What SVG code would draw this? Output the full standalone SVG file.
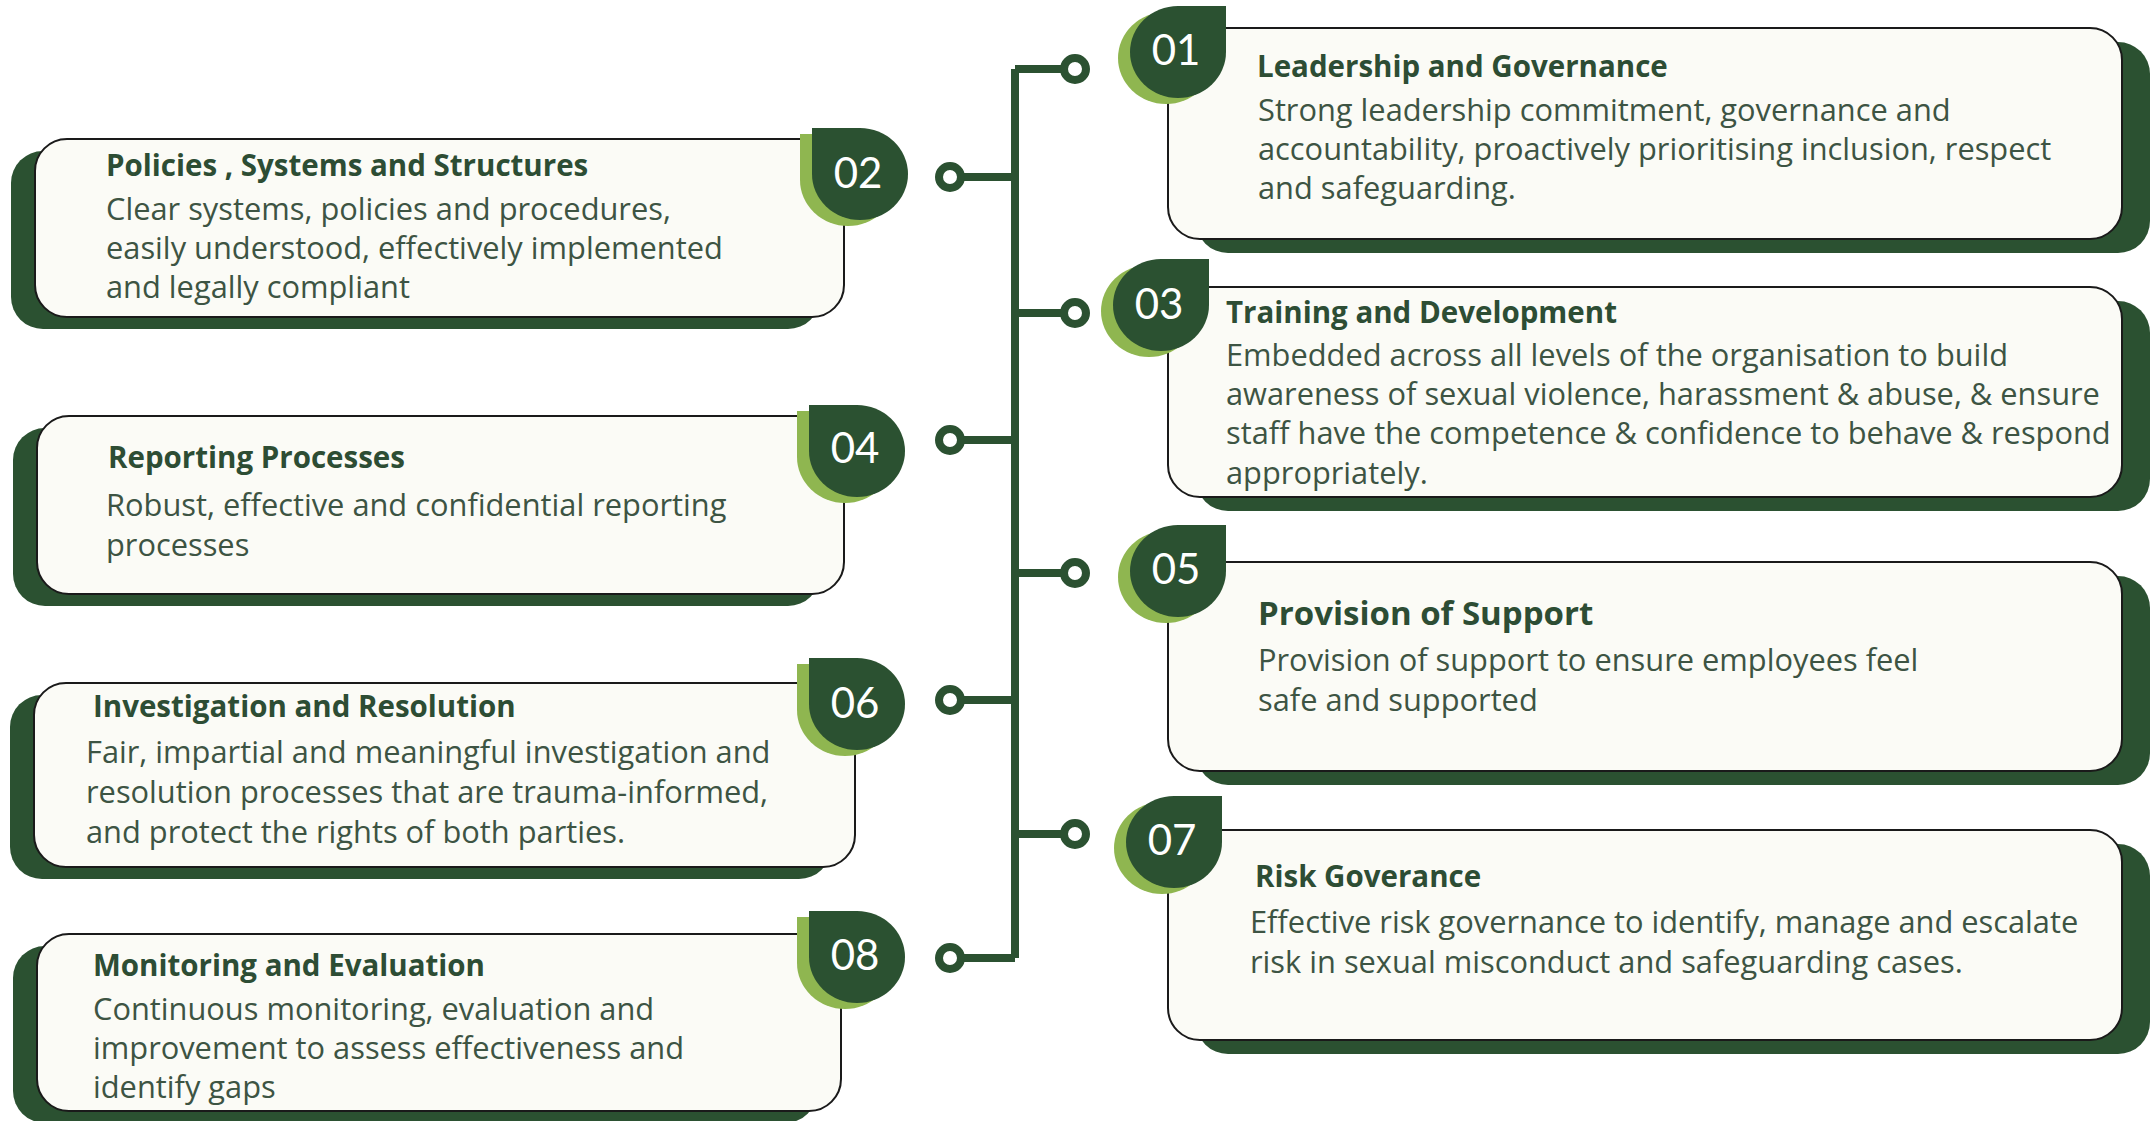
<svg xmlns="http://www.w3.org/2000/svg" xmlns:xlink="http://www.w3.org/1999/xlink" width="2151" height="1121" viewBox="0 0 2151 1121">
<style>
.bg{fill:#ffffff}
.shadow{fill:#2b5131}
.card{fill:#fbfbf6;stroke:#1a1a1a;stroke-width:2}
.bdark{fill:#2b5131}
.blight{fill:#8fb650}
.num{font-family:"Lato","Open Sans",sans-serif;font-size:42px;fill:#ffffff;text-anchor:middle}
.title{font-family:"Open Sans","Noto Sans",sans-serif;font-weight:700;font-size:29.5px;fill:#2d4d34}
.title2{font-family:"Open Sans","Noto Sans",sans-serif;font-weight:700;font-size:33px;fill:#2d4d34}
.body{font-family:"Open Sans","Noto Sans",sans-serif;font-size:30.8px;fill:#3d5443}
.line{fill:none;stroke:#2b5131;stroke-width:8}
.dot{fill:#ffffff;stroke:#2b5131;stroke-width:8}
</style>
<defs>
<path id="badgeR" d="M48,0 H96 V46 A48,46 0 0 1 48,92 A48,46 0 0 1 0,46 A48,46 0 0 1 48,0 Z"/>
<path id="badgeL" d="M0,0 H48 A48,46 0 0 1 96,46 A48,46 0 0 1 48,92 A48,46 0 0 1 0,46 Z"/>
</defs>
<rect class="bg" x="0" y="0" width="2151" height="1121"/>

<g id="connectors">
<path class="line" d="M1015,69 V958"/>
<path class="line" d="M1015,69 H1064 M1015,313 H1064 M1015,573 H1064 M1015,834 H1064"/>
<path class="line" d="M1015,177 H960 M1015,440 H960 M1015,700 H960 M1015,958 H960"/>
<circle class="dot" cx="1075" cy="69" r="11"/>
<circle class="dot" cx="1075" cy="313" r="11"/>
<circle class="dot" cx="1075" cy="573" r="11"/>
<circle class="dot" cx="1075" cy="834" r="11"/>
<circle class="dot" cx="950" cy="177" r="11"/>
<circle class="dot" cx="950" cy="440" r="11"/>
<circle class="dot" cx="950" cy="700" r="11"/>
<circle class="dot" cx="950" cy="958" r="11"/>
</g>

<g id="node-01">
<rect class="shadow" x="1196" y="42" width="954" height="211" rx="32"/>
<rect class="card" x="1168" y="28" width="954" height="211" rx="32"/>
<use href="#badgeR" class="blight" x="1118" y="12"/>
<use href="#badgeR" class="bdark" x="1130" y="6"/>
<text class="num" x="1176" y="65">01</text>
<text class="title" x="1257" y="77">Leadership and Governance</text>
<text class="body"><tspan x="1258" y="121">Strong leadership commitment, governance and</tspan><tspan x="1258" y="160">accountability, proactively prioritising inclusion, respect</tspan><tspan x="1258" y="199">and safeguarding.</tspan></text>
</g>

<g id="node-03">
<rect class="shadow" x="1196" y="301" width="954" height="210" rx="32"/>
<rect class="card" x="1168" y="287" width="954" height="210" rx="32"/>
<use href="#badgeR" class="blight" x="1101" y="265"/>
<use href="#badgeR" class="bdark" x="1113" y="259"/>
<text class="num" x="1159" y="319">03</text>
<text class="title" x="1226" y="323">Training and Development</text>
<text class="body"><tspan x="1226" y="366">Embedded across all levels of the organisation to build</tspan><tspan x="1226" y="405">awareness of sexual violence, harassment &amp; abuse, &amp; ensure</tspan><tspan x="1226" y="444">staff have the competence &amp; confidence to behave &amp; respond</tspan><tspan x="1226" y="484">appropriately.</tspan></text>
</g>

<g id="node-05">
<rect class="shadow" x="1196" y="576" width="954" height="209" rx="32"/>
<rect class="card" x="1168" y="562" width="954" height="209" rx="32"/>
<use href="#badgeR" class="blight" x="1118" y="531"/>
<use href="#badgeR" class="bdark" x="1130" y="525"/>
<text class="num" x="1176" y="584">05</text>
<text class="title2" x="1258" y="625">Provision of Support</text>
<text class="body"><tspan x="1258" y="671">Provision of support to ensure employees feel</tspan><tspan x="1258" y="711">safe and supported</tspan></text>
</g>

<g id="node-07">
<rect class="shadow" x="1196" y="844" width="954" height="210" rx="32"/>
<rect class="card" x="1168" y="830" width="954" height="210" rx="32"/>
<use href="#badgeR" class="blight" x="1114" y="802"/>
<use href="#badgeR" class="bdark" x="1126" y="796"/>
<text class="num" x="1172" y="855">07</text>
<text class="title" x="1255" y="887">Risk Goverance</text>
<text class="body"><tspan x="1250" y="933">Effective risk governance to identify, manage and escalate</tspan><tspan x="1250" y="973">risk in sexual misconduct and safeguarding cases.</tspan></text>
</g>

<g id="node-02">
<rect class="shadow" x="11" y="151" width="809" height="178" rx="32"/>
<rect class="card" x="35" y="139" width="809" height="178" rx="32"/>
<use href="#badgeL" class="blight" x="800" y="134"/>
<use href="#badgeL" class="bdark" x="812" y="128"/>
<text class="num" x="858" y="188">02</text>
<text class="title" x="106" y="176">Policies , Systems and Structures</text>
<text class="body"><tspan x="106" y="220">Clear systems, policies and procedures,</tspan><tspan x="106" y="259">easily understood, effectively implemented</tspan><tspan x="106" y="298">and legally compliant</tspan></text>
</g>

<g id="node-04">
<rect class="shadow" x="13" y="428" width="807" height="178" rx="32"/>
<rect class="card" x="37" y="416" width="807" height="178" rx="32"/>
<use href="#badgeL" class="blight" x="797" y="411"/>
<use href="#badgeL" class="bdark" x="809" y="405"/>
<text class="num" x="855" y="463">04</text>
<text class="title" x="108" y="468">Reporting Processes</text>
<text class="body"><tspan x="106" y="516">Robust, effective and confidential reporting</tspan><tspan x="106" y="556">processes</tspan></text>
</g>

<g id="node-06">
<rect class="shadow" x="10" y="695" width="821" height="184" rx="32"/>
<rect class="card" x="34" y="683" width="821" height="184" rx="32"/>
<use href="#badgeL" class="blight" x="797" y="664"/>
<use href="#badgeL" class="bdark" x="809" y="658"/>
<text class="num" x="855" y="718">06</text>
<text class="title" x="93" y="717">Investigation and Resolution</text>
<text class="body"><tspan x="86" y="763">Fair, impartial and meaningful investigation and</tspan><tspan x="86" y="803">resolution processes that are trauma-informed,</tspan><tspan x="86" y="843">and protect the rights of both parties.</tspan></text>
</g>

<g id="node-08">
<rect class="shadow" x="13" y="946" width="804" height="177" rx="32"/>
<rect class="card" x="37" y="934" width="804" height="177" rx="32"/>
<use href="#badgeL" class="blight" x="797" y="917"/>
<use href="#badgeL" class="bdark" x="809" y="911"/>
<text class="num" x="855" y="970">08</text>
<text class="title" x="93" y="976">Monitoring and Evaluation</text>
<text class="body"><tspan x="93" y="1020">Continuous monitoring, evaluation and</tspan><tspan x="93" y="1059">improvement to assess effectiveness and</tspan><tspan x="93" y="1098">identify gaps</tspan></text>
</g>
</svg>
